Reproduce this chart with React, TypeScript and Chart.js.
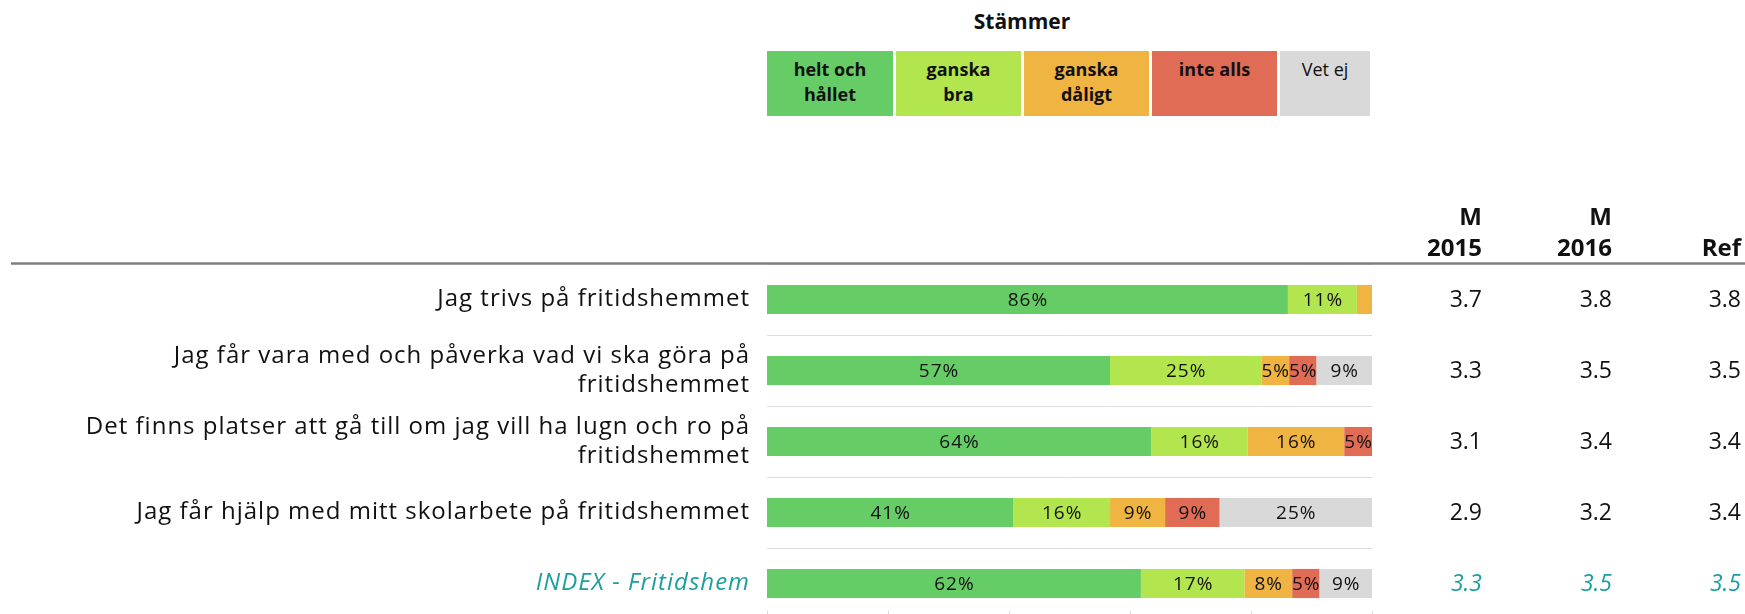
import React, { useEffect, useRef } from "react";
import { Chart, registerables } from "chart.js";

Chart.register(...registerables);

// ---------- data ----------
const categories: string[][] = [
  ["Jag trivs på fritidshemmet"],
  ["Jag får vara med och påverka vad vi ska göra på", "fritidshemmet"],
  ["Det finns platser att gå till om jag vill ha lugn och ro på", "fritidshemmet"],
  ["Jag får hjälp med mitt skolarbete på fritidshemmet"],
  ["INDEX - Fritidshem"],
];
const legendTitle = "Stämmer";
const responseNames = ["helt och hållet", "ganska bra", "ganska dåligt", "inte alls", "Vet ej"];
const legendLines: string[][] = [
  ["helt och", "hållet"],
  ["ganska", "bra"],
  ["ganska", "dåligt"],
  ["inte alls"],
  ["Vet ej"],
];
const heltOchHallet = [86.1, 56.7, 63.5, 40.7, 61.8];
const ganskaBra = [11.4, 25.0, 15.9, 16.0, 17.1];
const ganskaDaligt = [2.5, 4.6, 16.0, 9.1, 7.9];
const inteAlls = [0, 4.5, 4.6, 9.0, 4.5];
const vetEj = [0, 9.2, 0, 25.2, 8.7];
const m2015 = [3.7, 3.3, 3.1, 2.9, 3.3];
const m2016 = [3.8, 3.5, 3.4, 3.2, 3.5];
const refValues = [3.8, 3.5, 3.4, 3.4, 3.5];
const columnHeaders: string[][] = [["M", "2015"], ["M", "2016"], ["", "Ref"]];
const xMin = 0;
const xMax = 100;
const xStep = 20;

// ---------- styles ----------
const colors = ["#66cc66", "#b3e64e", "#f0b443", "#e06c56", "#d9d9d9"];
const FONT = "'Open Sans', sans-serif";
const TEXT = "#111111";
const TEAL = "#1a9e9e";
const INDEX_ROW = 4;
const colRight = [1482, 1612, 1741];
const legendWidths = [126, 125, 125, 125, 90];

const overlayPlugin = {
  id: "overlay",
  beforeDraw(chart: any) {
    (chart.ctx as any).letterSpacing = "1px";
  },
  beforeDatasetsDraw(chart: any) {
    (chart.ctx as any).letterSpacing = "0px";
  },
  afterDatasetsDraw(chart: any) {
    const ctx = chart.ctx;
    ctx.save();
    (ctx as any).letterSpacing = "1px";
    ctx.font = `19px ${FONT}`;
    ctx.fillStyle = TEXT;
    ctx.textAlign = "center";
    ctx.textBaseline = "middle";
    chart.data.datasets.forEach((ds: any, di: number) => {
      const meta = chart.getDatasetMeta(di);
      meta.data.forEach((el: any, i: number) => {
        const v = ds.data[i];
        if (v >= 4) {
          ctx.fillText(Math.round(v) + "%", (el.x + el.base) / 2 + 0.5, el.y + 1);
        }
      });
    });
    (ctx as any).letterSpacing = "0px";
    ctx.restore();
  },
  afterDraw(chart: any) {
    const ctx = chart.ctx;
    const area = chart.chartArea;
    const y = chart.scales.y;
    const x = chart.scales.x;
    ctx.save();
    (ctx as any).letterSpacing = "0px";
    // header rule
    ctx.strokeStyle = "#7f7f7f";
    ctx.lineWidth = 2.5;
    ctx.beginPath();
    ctx.moveTo(11, 263.5);
    ctx.lineTo(chart.width, 263.5);
    ctx.stroke();
    // column headers
    ctx.fillStyle = TEXT;
    ctx.font = `bold 24px ${FONT}`;
    ctx.textAlign = "right";
    ctx.textBaseline = "alphabetic";
    columnHeaders.forEach((h, c) => {
      ctx.fillText(h[0], colRight[c], 225);
      ctx.fillText(h[1], colRight[c], 256);
    });
    // values
    const cols = [m2015, m2016, refValues];
    ctx.textBaseline = "middle";
    categories.forEach((_, i) => {
      const py = y.getPixelForValue(i);
      const idx = i === INDEX_ROW;
      ctx.font = `${idx ? "italic " : ""}23px ${FONT}`;
      ctx.fillStyle = idx ? TEAL : TEXT;
      cols.forEach((arr, c) => {
        ctx.fillText(arr[i].toFixed(1), colRight[c], py + 1);
      });
    });
    // inside tick marks on the value axis
    ctx.strokeStyle = "#d9d9d9";
    ctx.lineWidth = 1;
    x.ticks.forEach((t: any) => {
      const px = Math.round(x.getPixelForValue(t.value)) + 0.5;
      ctx.beginPath();
      ctx.moveTo(px, area.bottom - 8);
      ctx.lineTo(px, area.bottom);
      ctx.stroke();
    });
    ctx.restore();
  },
};

export default function App() {
  const ref = useRef<HTMLCanvasElement | null>(null);
  useEffect(() => {
    if (!ref.current) return;
    const series = [heltOchHallet, ganskaBra, ganskaDaligt, inteAlls, vetEj];
    const chart = new Chart(ref.current, {
      type: "bar",
      data: {
        labels: categories as any,
        datasets: series.map((d, i) => ({
          label: responseNames[i],
          data: d,
          backgroundColor: colors[i],
          borderWidth: 0,
          barPercentage: 0.41,
          categoryPercentage: 1,
        })),
      },
      options: {
        indexAxis: "y",
        responsive: false,
        animation: false,
        layout: { padding: { left: 0, right: 373, top: 264, bottom: 21 } },
        plugins: { legend: { display: false }, tooltip: { enabled: false } },
        scales: {
          x: {
            stacked: true,
            min: xMin,
            max: xMax,
            display: false,
            ticks: { stepSize: xStep },
          },
          y: {
            stacked: true,
            border: { display: false },
            grid: { color: "#dcdcdc", drawTicks: false, offset: true, lineWidth: 1 },
            ticks: {
              padding: 17,
              autoSkip: false,
              color: (c: any) => (c.index === INDEX_ROW ? TEAL : TEXT),
              font: (c: any) => ({
                family: FONT,
                size: 24,
                lineHeight: 1.2,
                style: c.index === INDEX_ROW ? "italic" : "normal",
              }),
            },
            afterFit: (s: any) => {
              s.width = 767;
              s.paddingTop = 0;
              s.paddingBottom = 0;
            },
          },
        },
      } as any,
      plugins: [overlayPlugin],
    });
    return () => chart.destroy();
  }, []);

  const legendLeft = 767;
  const fourWidth = legendWidths.slice(0, 4).reduce((a, b) => a + b, 0) + 3 * 3;
  return (
    <div
      style={{
        position: "absolute",
        left: 0,
        top: 0,
        width: 1745,
        height: 614,
        overflow: "hidden",
        background: "#ffffff",
        fontFamily: FONT,
        color: TEXT,
      }}
    >
      <div
        style={{
          position: "absolute",
          left: legendLeft,
          width: fourWidth,
          top: 6,
          textAlign: "center",
          fontWeight: 700,
          fontSize: 21,
          lineHeight: "30px",
        }}
      >
        {legendTitle}
      </div>
      <div style={{ position: "absolute", left: legendLeft, top: 51, display: "flex", gap: 3 }}>
        {legendLines.map((lines, i) => (
          <div
            key={i}
            style={{
              width: legendWidths[i],
              height: 65,
              background: colors[i],
              boxSizing: "border-box",
              paddingTop: 6,
              textAlign: "center",
              fontSize: 18,
              lineHeight: "25px",
              fontWeight: i === 4 ? 400 : 700,
            }}
          >
            {lines.map((l, j) => (
              <div key={j}>{l}</div>
            ))}
          </div>
        ))}
      </div>
      <canvas ref={ref} width={1745} height={640} style={{ display: "block", position: "absolute", left: 0, top: 0 }} />
    </div>
  );
}
